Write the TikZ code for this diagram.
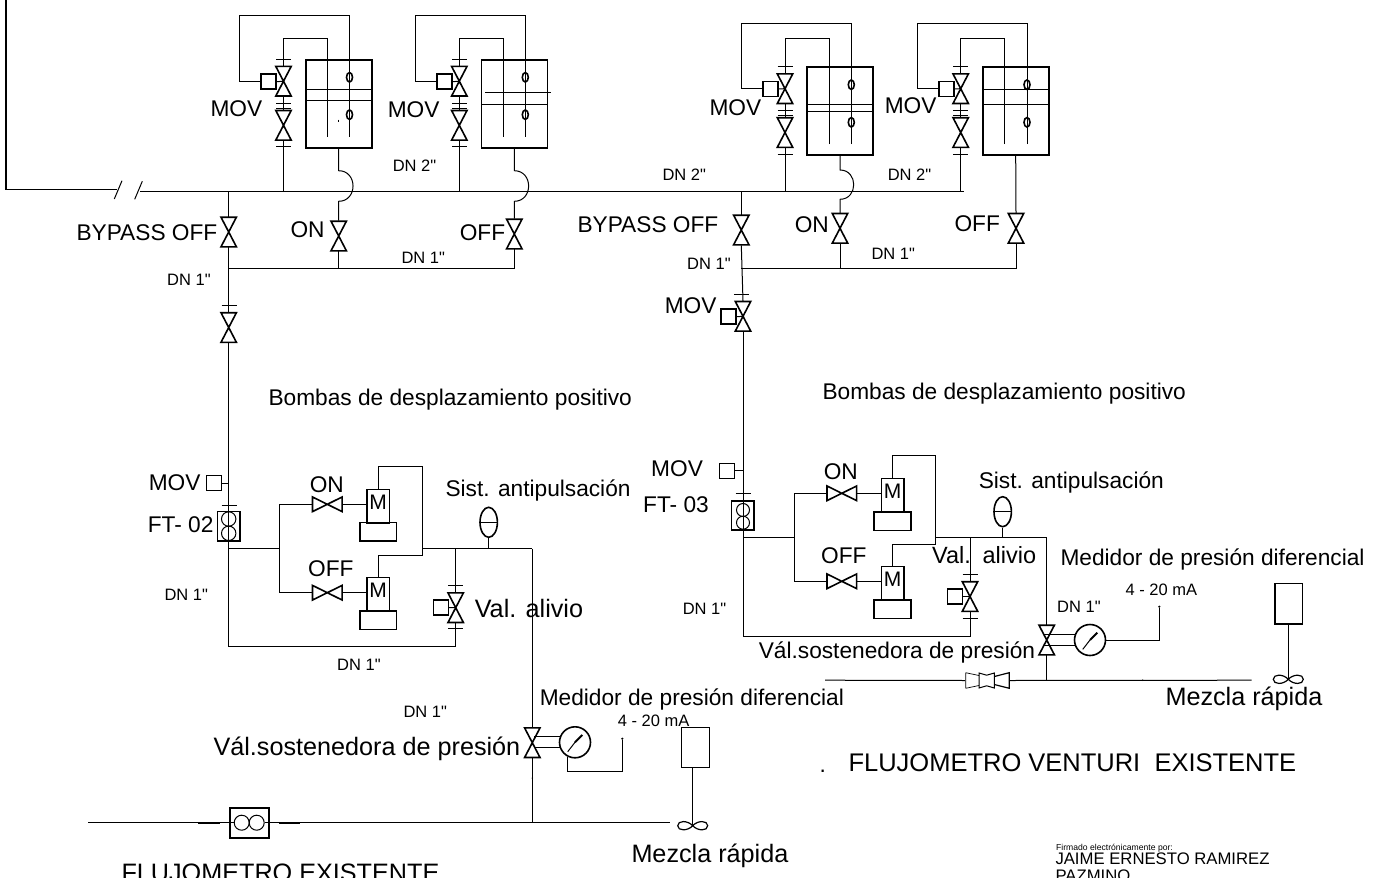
\documentclass[tikz,border=0pt]{standalone}
\usepackage{fontspec}
\setmainfont{Liberation Sans}[Ligatures=TeXOff]
\usetikzlibrary{shapes.geometric}

\tikzset{
    heavy/.style={line width=1.6pt},
    lbl/.style={anchor=base west, inner sep=0, font=\fontsize{22.7}{27}\selectfont},
    lblb/.style={anchor=base west, inner sep=0, font=\fontsize{25.2}{30}\selectfont},
    lbls/.style={anchor=base west, inner sep=0, font=\fontsize{16.5}{20}\selectfont},
    lblt/.style={anchor=base west, inner sep=0, font=\fontsize{8.6}{10}\selectfont},
    tank/.style={draw, heavy, inner sep=0, minimum width=66, minimum height=88},
    act/.style={draw, heavy, inner sep=0, minimum width=15, minimum height=15},
    motor/.style={draw, heavy, inner sep=0, minimum width=22.6, minimum height=33.4, text height=15.3, text depth=8, font=\fontsize{21}{25}\selectfont},
    base/.style={draw, heavy, inner sep=0, minimum width=36.7, minimum height=18.6},
    ftbox/.style={draw, heavy, inner sep=0, minimum width=22.7, minimum height=29.4},
    rotor/.style={draw, circle, inner sep=0, minimum size=14.4},
    eye/.style={draw, heavy, ellipse, inner sep=0, minimum width=6, minimum height=9.5},
    vessel/.style={draw, heavy, ellipse, inner sep=0, minimum width=17.4, minimum height=30},
    mixer/.style={draw, inner sep=0, line width=1.2pt, minimum width=27.6, minimum height=40.5},
    dot/.style={fill, circle, inner sep=0, minimum size=2.4},
    bump/.style={out=0, in=0, looseness=1.6},
    valve/.pic={
        \path node (-b) [inner sep=0, minimum width=15.5, minimum height=29.6] {};
        \draw[heavy] (-7.7,-14.8) -- (7.7,-14.8) -- (-7.7,14.8) -- (7.7,14.8) -- cycle;
    },
    hvalve/.pic={
        \path node (-b) [inner sep=0, minimum width=29.6, minimum height=15.5] {};
        \draw[heavy] (-14.8,-7.3) -- (-14.8,7.3) -- (14.8,-7.3) -- (14.8,7.3) -- cycle;
    },
    gauge/.pic={
        \path node (-b) [draw, heavy, circle, inner sep=0, minimum size=31] {};
        \draw (-7.3,9.4) -- (0,0);
        \draw[line width=2pt] (0,0) -- (7.3,-7.3);
    },
    stirrer/.pic={
        \path node (-b) [inner sep=0, minimum width=30, minimum height=8] {};
        \draw[line width=1.2pt] (0,0) .. controls (5,-5.5) and (15,-5.5) .. (15,0) .. controls (15,5.5) and (5,5.5) .. (0,0) .. controls (-5,-5.5) and (-15,-5.5) .. (-15,0) .. controls (-15,5.5) and (-5,5.5) .. (0,0);
    },
}

\begin{document}
\begin{tikzpicture}[x=1pt, y=-1pt, line width=1pt]

    \useasboundingbox (0,0) rectangle (1374,878);

    \path coordinate (nw) at (6,0);
    \path coordinate (brka) at (116.7,189.3);
    \path coordinate (hdr) at (140,191.7);
    \path coordinate (hend) at (964.3,191.7);
    \path coordinate (loa) at (228.7,268.7);
    \path coordinate (lob) at (741.3,268.5);

    \draw[line width=1.4pt] (nw) |- (brka);
    \draw (114.3,199) -- (122,180.7) (134.7,199.3) -- (142.3,181.3);
    \draw (hdr) -- (hend);

    \path node (tka) [tank] at (338.7,104) {};
    \path node (acta) [act] at (268.5,81.7) {};
    \path pic (vpa) at (283.5,81.2) {valve};
    \path pic (vqa) at (283.5,125.3) {valve};
    \path node (eyaa) [eye] at (349.5,77.3) {};
    \path node (eyab) [eye] at (349.5,114.7) {};
    \path coordinate (ina) at (327.5,136.7);
    \path coordinate (topa) at (327.5,38);
    \path coordinate (outa) at (349.5,136.7);
    \path coordinate (upa) at (349.5,15.7);
    \path coordinate (lfa) at (239.3,15.7);
    \path coordinate (jaa) at (338.7,170.7);
    \path coordinate (jab) at (338.7,201.3);
    \path pic (vona) at (338.7,236) {valve};
    \draw (306,89.3) -- (372,89.3) (306,100) -- (372,100);
    \draw (338.7,119.5) -- (338.7,122);
    \draw (ina) -- (topa) -| (vpa-b.north);
    \draw (outa) -- (upa) -- (lfa) |- (acta.west);
    \draw (acta.east) -- (vpa-b.center);
    \draw (vpa-b.south) -- (vqa-b.north);
    \draw (vqa-b.south) -- (vqa-b.south |- hdr);
    \draw (tka.south) -- (jaa) to[bump] (jab) -- (vona-b.north);
    \draw (vona-b.south) -- (vona-b.south |- loa);
    \draw (276,59.3) -- +(15,0) (276,103.3) -- +(15,0) (276,108.3) -- +(15,0) (276,146.7) -- +(15,0);

    \path node (tkb) [tank] at (514.3,104) {};
    \path node (actb) [act] at (444.5,81.7) {};
    \path pic (vpb) at (459.3,81.2) {valve};
    \path pic (vqb) at (459.3,125.3) {valve};
    \path node (eyba) [eye] at (525.3,77.3) {};
    \path node (eybb) [eye] at (525.3,114.7) {};
    \path coordinate (inb) at (503.3,136.7);
    \path coordinate (topb) at (503.3,38);
    \path coordinate (outb) at (525.3,136.7);
    \path coordinate (upb) at (525.3,15.7);
    \path coordinate (lfb) at (415.3,15.7);
    \path coordinate (jba) at (514.3,170.7);
    \path coordinate (jbb) at (514.3,201.3);
    \path pic (voffa) at (514.3,234) {valve};
    \draw (485,92.7) -- (551,92.7) (481.3,104.3) -- (547.3,104.3);
    \draw (inb) -- (topb) -| (vpb-b.north);
    \draw (outb) -- (upb) -- (lfb) |- (actb.west);
    \draw (actb.east) -- (vpb-b.center);
    \draw (vpb-b.south) -- (vqb-b.north);
    \draw (vqb-b.south) -- (vqb-b.south |- hdr);
    \draw (tkb.south) -- (jba) to[bump] (jbb) -- (voffa-b.north);
    \draw (452,59.3) -- +(15,0) (452,103.3) -- +(15,0) (452,108.3) -- +(15,0) (452,146.7) -- +(15,0);
    \draw (loa) -- (voffa-b.south |- loa) -- (voffa-b.south);

    \path node (tkc) [tank] at (840,111.2) {};
    \path node (actc) [act] at (770.2,88.9) {};
    \path pic (vpc) at (785,88.7) {valve};
    \path pic (vqc) at (785,132.5) {valve};
    \path node (eyca) [eye] at (851.3,84.7) {};
    \path node (eycb) [eye] at (851.3,122.3) {};
    \path coordinate (inc) at (829.3,144);
    \path coordinate (topc) at (829.3,38.3);
    \path coordinate (outc) at (851.3,144);
    \path coordinate (upc) at (851.3,23.3);
    \path coordinate (lfc) at (741.3,23.3);
    \path coordinate (jca) at (840,170);
    \path coordinate (jcb) at (840,199.3);
    \path pic (vonb) at (840,228.3) {valve};
    \draw (807,104.3) -- (873,104.3) (807,111.7) -- (873,111.7);
    \draw (inc) -- (topc) -| (vpc-b.north);
    \draw (outc) -- (upc) -- (lfc) |- (actc.west);
    \draw (actc.east) -- (vpc-b.center);
    \draw (vpc-b.south) -- (vqc-b.north);
    \draw (vqc-b.south) -- (vqc-b.south |- hdr);
    \draw (tkc.south) -- (jca) to[bump] (jcb) -- (vonb-b.north);
    \draw (vonb-b.south) -- (vonb-b.south |- lob);
    \draw (777.5,66.7) -- +(15,0) (777.5,110) -- +(15,0) (777.5,115) -- +(15,0) (777.5,154.3) -- +(15,0);

    \path node (tkd) [tank] at (1015.7,111.2) {};
    \path node (actd) [act] at (946.2,88.9) {};
    \path pic (vpd) at (960.7,88.7) {valve};
    \path pic (vqd) at (960.7,132.5) {valve};
    \path node (eyda) [eye] at (1027,84.7) {};
    \path node (eydb) [eye] at (1027,122.3) {};
    \path coordinate (ind) at (1004.7,144);
    \path coordinate (topd) at (1004.7,38.3);
    \path coordinate (outd) at (1027,144);
    \path coordinate (upd) at (1027,23.3);
    \path coordinate (lfd) at (917,23.3);
    \path pic (voffb) at (1016,228.3) {valve};
    \draw (982.7,89.3) -- (1048.7,89.3) (982.7,104.3) -- (1048.7,104.3);
    \draw (ind) -- (topd) -| (vpd-b.north);
    \draw (outd) -- (upd) -- (lfd) |- (actd.west);
    \draw (actd.east) -- (vpd-b.center);
    \draw (vpd-b.south) -- (vqd-b.north);
    \draw (vqd-b.south) -- (vqd-b.south |- hdr);
    \draw (tkd.south) -- (voffb-b.north);
    \draw (953.2,66.7) -- +(15,0) (953.2,110) -- +(15,0) (953.2,115) -- +(15,0) (953.2,154.3) -- +(15,0);
    \draw (lob) -- (voffb-b.south |- lob) -- (voffb-b.south);

    \path pic (vby) at (228.7,232) {valve};
    \path pic (vsa) at (228.7,327.5) {valve};
    \path node (ftb) [ftbox] at (228.7,526.3) {};
    \path node (rfa) [rotor] at (228.7,519) {};
    \path node (rfb) [rotor] at (228.7,533.3) {};
    \path node (mva) [act, line width=1pt] at (214.2,483.2) {};
    \path coordinate (swa) at (228.7,646.7);
    \path coordinate (sja) at (228.7,548.7);
    \path coordinate (bra) at (279.7,548.7);
    \draw (vby-b.north |- hdr) -- (vby-b.north);
    \draw (vby-b.south) -- (vsa-b.north);
    \draw (vsa-b.south) -- (swa);
    \draw (mva.east) -- (mva.east -| sja);
    \draw (221.7,305) -- +(15,0) (221.7,505) -- +(15,0);

    \path pic (hona) at (327.3,504.3) {hvalve};
    \path pic (hoffa) at (327.3,592.7) {hvalve};
    \path node (maa) [motor] at (378,506) {M};
    \path node (baa) [base] at (378.3,531.9) {};
    \path node (mab) [motor] at (378,594) {M};
    \path node (bab) [base] at (378.3,620) {};
    \path coordinate (cra) at (422.7,466.7);
    \path coordinate (crb) at (422.7,555.3);
    \path coordinate (sjb) at (532.3,548.7);
    \draw (sja) -- (bra);
    \draw (hona-b.west) -| (bra) |- (hoffa-b.west);
    \draw (hona-b.east) -- (maa.west |- hona-b.east);
    \draw (hoffa-b.east) -- (mab.west |- hoffa-b.east);
    \draw (maa.north) |- (cra) -- (crb) -| (mab.north);
    \draw (crb |- sjb) -- (sjb);

    \path node (vsla) [vessel] at (488.7,522.3) {};
    \path pic (vra) at (455.7,607.7) {valve};
    \path node (rla) [act, line width=1.2pt] at (440.8,607.5) {};
    \draw[line width=0.6pt] (vsla.west) -- (vsla.east);
    \draw (vsla.south) -- (vsla.south |- sjb);
    \draw (vra-b.north |- sjb) -- (vra-b.north);
    \draw (vra-b.south) |- (swa);
    \draw (rla.east) -- (vra-b.center);
    \draw (448.2,585.3) -- +(15,0) (448.2,628.7) -- +(15,0);

    \path pic (vma) at (532.3,742.7) {valve};
    \path pic (gaa) at (575,742.3) {gauge};
    \path node (tipa) [dot] at (622.3,738.7) {};
    \path coordinate (sga) at (622.3,771);
    \path node (mxa) [mixer] at (695.5,747.6) {};
    \path pic (ima) at (692.7,825.7) {stirrer};
    \path coordinate (bhl) at (88,822.7);
    \path coordinate (bhr) at (670,822.7);
    \path node (fea) [ftbox, minimum width=39, minimum height=30] at (249.2,822.7) {};
    \path node (rea) [rotor, minimum size=15] at (241.7,822.7) {};
    \path node (reb) [rotor, minimum size=15] at (256.7,822.7) {};
    \path node (dota) [dot, minimum size=1.6] at (532.3,778) {};
    \draw (sjb) -- (vma-b.north);
    \draw (vma-b.south) -- (vma-b.south |- bhr);
    \draw (gaa-b.160) -- ++(-25.5,0);
    \draw (gaa-b.200) -- ++(-25.5,0);
    \draw (gaa-b.242) |- (sga) -- (tipa);
    \draw (mxa.south -| ima-b.north) -- (ima-b.center);
    \draw (bhl) -- (fea.west) -- (rea.west);
    \draw (reb.east) -- (fea.east) -- (bhr);
    \draw[heavy] (197.7,822.7) -- (220,822.7) (278.7,822.7) -- (300,822.7);

    \path pic (vmb) at (743,316.3) {valve};
    \path node (mvb) [act] at (728.5,316.7) {};
    \path node (ftc) [ftbox] at (742.8,515.5) {};
    \path node (rfc) [rotor, minimum size=13] at (743,510) {};
    \path node (rfd) [rotor, minimum size=13] at (743,522.7) {};
    \path node (mvc) [act, line width=0.8pt] at (726.7,470.7) {};
    \path pic (vbz) at (741.3,230) {valve};
    \path coordinate (swb) at (743,636.3);
    \path coordinate (sjc) at (743,537.3);
    \path coordinate (brb) at (794.3,537.3);
    \draw (vbz-b.north |- hdr) -- (vbz-b.north);
    \draw (vbz-b.south) -- (vmb-b.north);
    \draw (vmb-b.south) -- (swb);
    \draw (mvb.east) -- (vmb-b.center);
    \draw (mvc.east) -- (mvc.east -| sjc);
    \draw (733.8,294.3) -- +(15,0) (735.5,493.3) -- +(15,0);

    \path pic (honb) at (841.8,493.3) {hvalve};
    \path pic (hoffb) at (841.8,581.3) {hvalve};
    \path node (mac) [motor] at (892.6,495.3) {M};
    \path node (bac) [base] at (892.5,521.3) {};
    \path node (mad) [motor] at (892.6,583.3) {M};
    \path node (bad) [base] at (892.5,609.3) {};
    \path coordinate (crc) at (935.7,455.3);
    \path coordinate (crd) at (935.7,544.7);
    \path coordinate (sjd) at (1046.7,537.3);
    \draw (sjc) -- (brb);
    \draw (honb-b.west) -| (brb) |- (hoffb-b.west);
    \draw (honb-b.east) -- (mac.west |- honb-b.east);
    \draw (hoffb-b.east) -- (mad.west |- hoffb-b.east);
    \draw (mac.north) |- (crc) -- (crd) -| (mad.north);
    \draw (crd |- sjd) -- (sjd);

    \path node (vslb) [vessel] at (1002.7,511.7) {};
    \path pic (vrb) at (970,596.5) {valve};
    \path node (rlb) [act, line width=1.2pt] at (955.3,596.5) {};
    \draw[line width=0.6pt] (vslb.west) -- (vslb.east);
    \draw (vslb.south) -- (vslb.south |- sjd);
    \draw (vrb-b.north |- sjd) -- (vrb-b.north);
    \draw (vrb-b.south) |- (swb);
    \draw (rlb.east) -- (vrb-b.center);
    \draw (962.5,574.3) -- +(15,0) (962.5,618) -- +(15,0);

    \path pic (vmc) at (1046.7,640) {valve};
    \path pic (gab) at (1090,640) {gauge};
    \path node (tipb) [dot] at (1159.3,606.7) {};
    \path coordinate (sgb) at (1159.3,640);
    \path node (mxb) [mixer, heavy] at (1288.6,603.8) {};
    \path pic (imb) at (1288.3,679.3) {stirrer};
    \path coordinate (rhl) at (825,680.2);
    \path coordinate (rhr) at (1251.7,680.2);
    \path node (vta) [inner sep=0, minimum width=43.6, minimum height=16] at (987.5,680.5) {};
    \path node (dotb) [dot, minimum size=1.6] at (1142.7,680.2) {};
    \draw[line width=0.7pt] (965.7,672.7) -- (965.7,688.3) (965.7,672.7) -- (979,675.5) (965.7,688.3) -- (979,685.5);
    \draw (979,673) -- (986.7,675.2) -- (994.3,673) -- (994.3,688) -- (986.7,685.8) -- (979,688) -- cycle;
    \draw[line width=1.2pt] (994.3,676.5) -- (1009.3,672.7) -- (1009.3,688.3) -- (994.3,684.5);
    \draw (sjd) -- (vmc-b.north);
    \draw (vmc-b.south) -- (vmc-b.south |- rhr);
    \draw (gab-b.160) -- ++(-30.5,0);
    \draw (gab-b.200) -- ++(-30.5,0);
    \draw (gab-b.east) -- (sgb) -- (tipb);
    \draw (mxb.south -| imb-b.north) -- (imb-b.center);
    \draw (rhl) -- (vta.west);
    \draw (vta.east) -- (rhr);

    \path node (ta) [lbl] at (210,116.7) {MOV};
    \path node (tb) [lbl] at (387.3,117) {MOV};
    \path node (tc) [lbl] at (709,115) {MOV};
    \path node (td) [lbl] at (884.3,113.3) {MOV};
    \path node (te) [lbls] at (392.3,171.7) {DN 2"};
    \path node (tf) [lbls] at (662,180) {DN 2"};
    \path node (tg) [lbls] at (887.3,180) {DN 2"};
    \path node (th) [lbl] at (76,240.7) {BYPASS OFF};
    \path node (ti) [lbl] at (290,237.7) {ON};
    \path node (tj) [lbl] at (459.3,240.7) {OFF};
    \path node (tk) [lbl] at (577,232) {BYPASS OFF};
    \path node (tl) [lbl] at (794.3,232.7) {ON};
    \path node (tm) [lbl] at (954,231) {OFF};
    \path node (tn) [lbls] at (401,263.3) {DN 1"};
    \path node (to) [lbls] at (166.7,285) {DN 1"};
    \path node (tp) [lbls] at (871,259) {DN 1"};
    \path node (tq) [lbls] at (686.7,269.3) {DN 1"};
    \path node (tr) [lbl] at (664.3,313.3) {MOV};
    \path node (ts) [lbl] at (268,405) {Bombas de desplazamiento positivo};
    \path node (tt) [lbl] at (822,399) {Bombas de desplazamiento positivo};

    \path node (tu) [lbl] at (148.3,490.7) {MOV};
    \path node (tv) [lbl] at (147.3,532.7) {FT- 02};
    \path node (tw) [lbl] at (309.3,492.7) {ON};
    \path node (tx) [lbl] at (307.7,576) {OFF};
    \path node (ty) [lbl] at (445,496.7) {Sist. antipulsación};
    \path node (tz) [lbls] at (164,600.7) {DN 1"};
    \path node (uaa) [lblb] at (474.3,617.7) {Val. alivio};
    \path node (uab) [lbls] at (336.7,670) {DN 1"};
    \path node (uac) [lbls] at (403,717) {DN 1"};
    \path node (uad) [lbl] at (539.3,705) {Medidor de presión diferencial};
    \path node (uae) [lblb] at (213,755) {Vál.sostenedora de presión};
    \path node (uaf) [lbls] at (617.3,726.7) {4 - 20 mA};
    \path node (uag) [lblb] at (631,862) {Mezcla rápida};
    \path node (uah) [lblb] at (121,881.6) {FLUJOMETRO EXISTENTE};

    \path node (uai) [lbl] at (650.7,476.7) {MOV};
    \path node (uaj) [lbl] at (642.7,512.7) {FT- 03};
    \path node (uak) [lbl] at (823.3,479.3) {ON};
    \path node (ual) [lbl] at (820.7,563.3) {OFF};
    \path node (uam) [lbl] at (978.3,488.3) {Sist. antipulsación};
    \path node (uan) [lbl, font=\fontsize{23.5}{28}\selectfont] at (931.7,563.3) {Val.\hspace{3pt} alivio};
    \path node (uao) [lbls] at (682.3,614) {DN 1"};
    \path node (uap) [lbl] at (758.3,658.3) {Vál.sostenedora de presión};
    \path node (uaq) [lbl] at (1060,565) {Medidor de presión diferencial};
    \path node (uar) [lbls] at (1125,595) {4 - 20 mA};
    \path node (uas) [lbls] at (1056.7,612.7) {DN 1"};
    \path node (uat) [lblb] at (1165,705) {Mezcla rápida};
    \path node (uau) [lbl] at (819,772) {.};
    \path node (uav) [lblb, font=\fontsize{25.5}{31}\selectfont] at (848,771) {FLUJOMETRO VENTURI\ \ EXISTENTE};

    \path node (uaw) [lblt] at (1055.7,850) {Firmado electrónicamente por:};
    \path node (uax) [lbls, font=\fontsize{16.7}{20}\selectfont] at (1055,864.3) {JAIME ERNESTO RAMIREZ};
    \path node (uay) [lbls, font=\fontsize{16.7}{20}\selectfont] at (1055,881) {PAZMINO};

\end{tikzpicture}
\end{document}
